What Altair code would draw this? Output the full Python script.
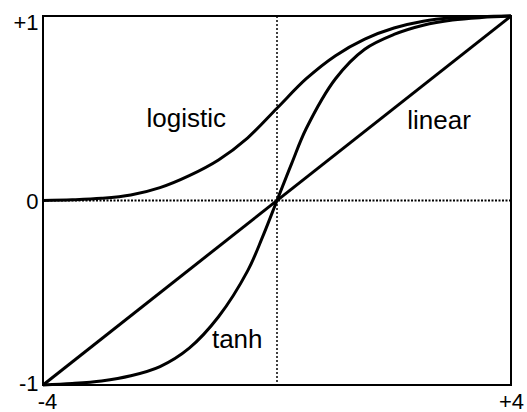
import altair as alt
import pandas as pd

# Activation functions over the input range -4 .. +4
logistic_x = [-4, -3.5, -3, -2.5, -2, -1.5, -1, -0.5, 0, 0.5, 1, 1.5, 2, 2.5, 3, 3.5, 4]
logistic_y = [0.0, 0.004, 0.012, 0.03, 0.07, 0.135, 0.22, 0.34, 0.5, 0.66, 0.785,
              0.875, 0.935, 0.972, 0.99, 0.997, 1.0]

tanh_x = [-4, -3.5, -3, -2.5, -2, -1.5, -1, -0.5, -0.25, 0, 0.25, 0.5, 1, 1.5, 2, 2.5, 3, 3.5, 4]
tanh_y = [-1.0, -0.992, -0.978, -0.95, -0.90, -0.80, -0.63, -0.38, -0.2, 0, 0.2, 0.39,
          0.66, 0.82, 0.90, 0.95, 0.978, 0.992, 1.0]

linear_x = [-4, 4]
linear_y = [-1, 1]

# Curve names and where each name is written
label_names = ["logistic", "linear", "tanh"]
label_x = [-1.55, 2.77, -0.68]
label_y = [0.40, 0.39, -0.80]

x_ticks = [-4, 4]
y_ticks = [-1, 0, 1]

curves = pd.concat([
    pd.DataFrame({"fn": "logistic", "x": logistic_x, "y": logistic_y}),
    pd.DataFrame({"fn": "tanh", "x": tanh_x, "y": tanh_y}),
    pd.DataFrame({"fn": "linear", "x": linear_x, "y": linear_y}),
])
labels = pd.DataFrame({"name": label_names, "x": label_x, "y": label_y})

xs = alt.Scale(domain=[-4, 4], nice=False, zero=False)
ys = alt.Scale(domain=[-1, 1], nice=False, zero=False)

sign_expr = "datum.value > 0 ? '+' + datum.value : '' + datum.value"

lines = alt.Chart(curves).mark_line(
    color="black", strokeWidth=3, interpolate="catmull-rom", clip=False
).encode(
    x=alt.X("x:Q", scale=xs, title=None,
            axis=alt.Axis(values=x_ticks, labelExpr=sign_expr, labelFlush=False,
                          labelPadding=6, labelBaseline="top",
                          labelOffset={"condition": {"test": "datum.value == -4", "value": 4},
                                       "value": 0})),
    y=alt.Y("y:Q", scale=ys, title=None,
            axis=alt.Axis(values=y_ticks, labelExpr=sign_expr, labelFlush=False,
                          labelPadding=5, labelBaseline="middle",
                          labelOffset={"condition": [
                              {"test": "datum.value == 1", "value": 6},
                              {"test": "datum.value == -1", "value": -2}],
                              "value": 1})),
    detail="fn:N",
)

vrule = alt.Chart(pd.DataFrame({"x": [0]})).mark_rule(
    color="black", strokeWidth=1.5, strokeDash=[2, 2]
).encode(x=alt.X("x:Q", scale=xs))

hrule = alt.Chart(pd.DataFrame({"y": [0]})).mark_rule(
    color="black", strokeWidth=2, strokeDash=[2, 1.5]
).encode(y=alt.Y("y:Q", scale=ys))

text = alt.Chart(labels).mark_text(
    font="Liberation Sans", fontSize=26, color="black",
    align="center", baseline="alphabetic"
).encode(
    x=alt.X("x:Q", scale=xs),
    y=alt.Y("y:Q", scale=ys),
    text="name:N",
)

chart = alt.layer(vrule, hrule, lines, text).properties(
    width=468, height=369,
    autosize=alt.AutoSizeParams(type="none"),
    padding={"left": 43, "top": 16, "right": 16, "bottom": 27},
    background="white",
).configure_view(
    stroke="black", strokeWidth=2
).configure_axis(
    domain=False, ticks=False, grid=False,
    labelFont="Liberation Sans", labelFontSize=22, labelColor="black",
)

chart.save("out.html", embed_options={"renderer": "svg", "actions": False})
